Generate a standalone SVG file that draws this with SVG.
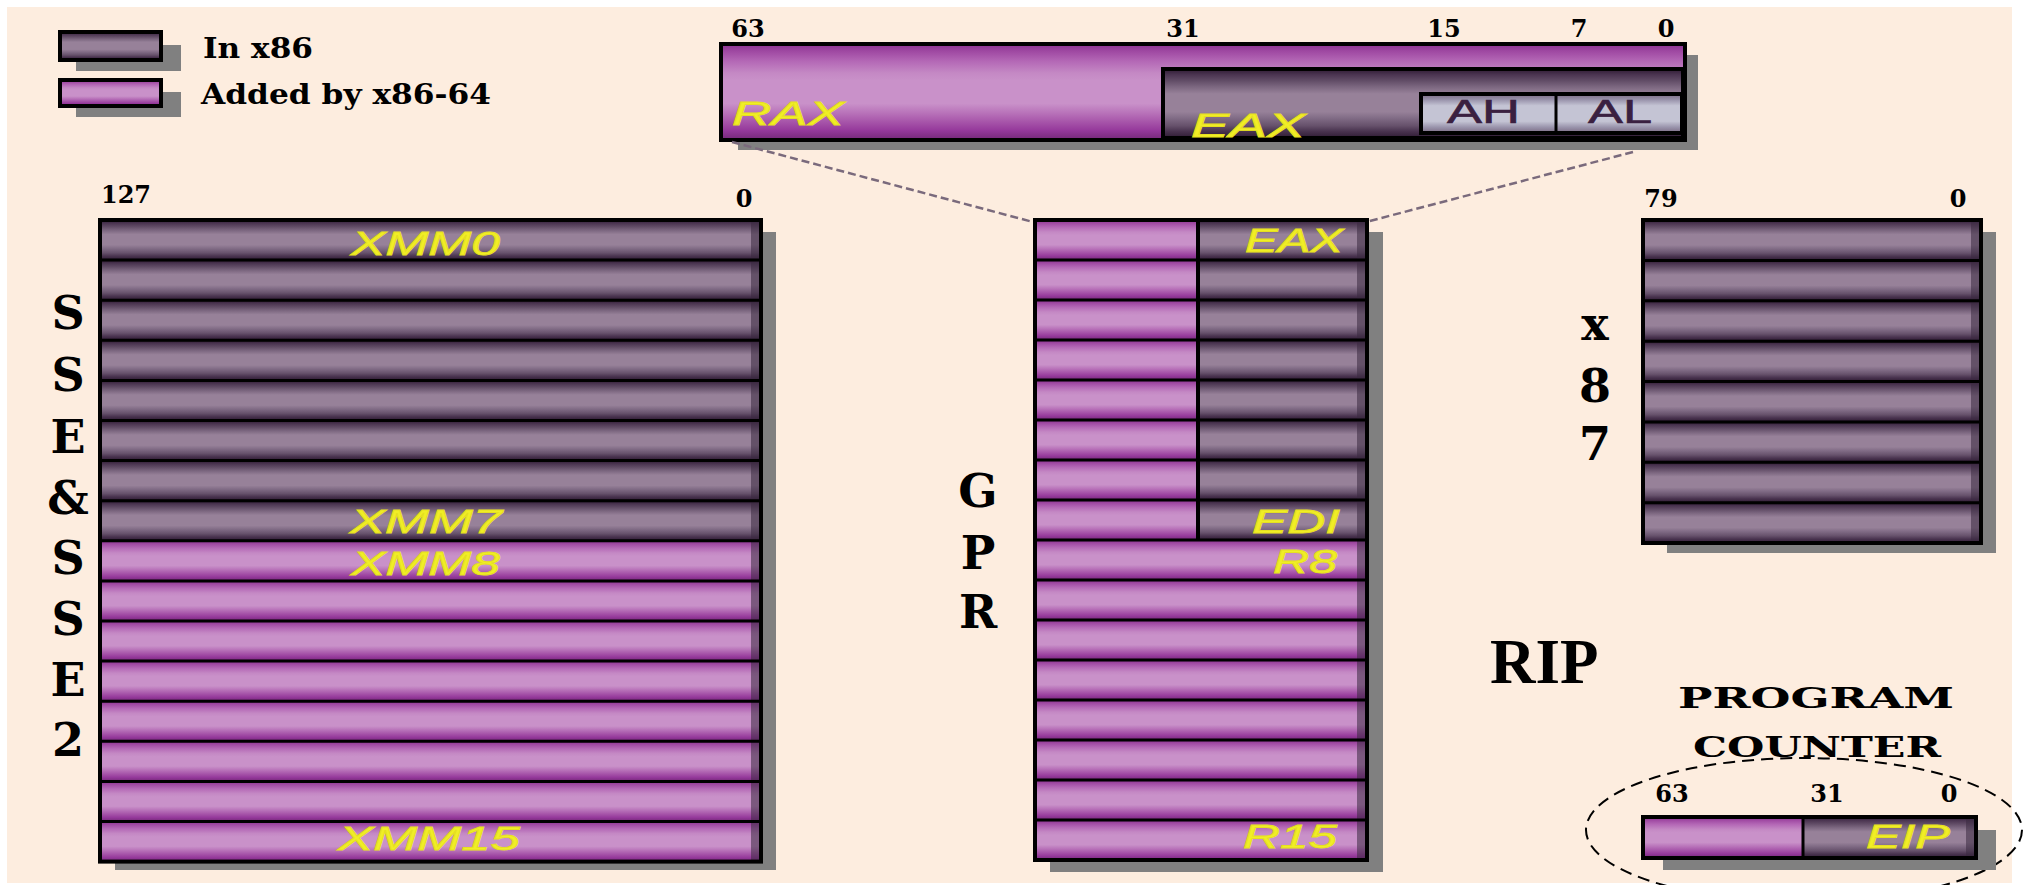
<svg xmlns="http://www.w3.org/2000/svg" width="2024" height="885" viewBox="0 0 2024 885">
<style>
.bn{font-family:"DejaVu Serif","Liberation Serif",serif;font-weight:bold;font-size:24px;fill:#000;text-anchor:middle}
.big{font-family:"DejaVu Serif","Liberation Serif",serif;font-weight:bold;font-size:46px;fill:#000;text-anchor:middle}
.lg{font-family:"DejaVu Serif","Liberation Serif",serif;font-weight:bold;font-size:27px;fill:#000}
.yl{font-family:"Liberation Sans",Arial,sans-serif;font-style:italic;font-size:34px;fill:#f0ee26;stroke:#e6e020;stroke-width:0.9}
.hl{font-family:"Liberation Sans",Arial,sans-serif;font-size:34px;fill:#3a2040;stroke:#3a2040;stroke-width:0.6}
.sh{fill:#808080}
.bd{fill:none;stroke:#000;stroke-width:4}
.sep{stroke:#000;stroke-width:3}
.g{fill:url(#gGrey)}
.m{fill:url(#gMag)}
.end{fill:#3a2a40;opacity:0.55}
.conn{stroke:#7a6a7c;stroke-width:2.5;stroke-dasharray:8 4;fill:none}
</style>
<defs>
<linearGradient id="gGrey" x1="0" y1="0" x2="0" y2="1">
<stop offset="0" stop-color="#2e1a32"/>
<stop offset="0.08" stop-color="#4a3450"/>
<stop offset="0.16" stop-color="#5f4a64"/>
<stop offset="0.26" stop-color="#7c6780"/>
<stop offset="0.36" stop-color="#978199"/>
<stop offset="0.62" stop-color="#978199"/>
<stop offset="0.72" stop-color="#7f6a84"/>
<stop offset="0.82" stop-color="#67526c"/>
<stop offset="0.9" stop-color="#4a3450"/>
<stop offset="1" stop-color="#2e1a32"/>
</linearGradient>
<linearGradient id="gMag" x1="0" y1="0" x2="0" y2="1">
<stop offset="0" stop-color="#8a3290"/>
<stop offset="0.08" stop-color="#a04aa3"/>
<stop offset="0.18" stop-color="#b468b6"/>
<stop offset="0.3" stop-color="#c488c4"/>
<stop offset="0.38" stop-color="#c991c9"/>
<stop offset="0.62" stop-color="#c991c9"/>
<stop offset="0.72" stop-color="#b872b9"/>
<stop offset="0.82" stop-color="#a552a8"/>
<stop offset="0.9" stop-color="#95399b"/>
<stop offset="1" stop-color="#742878"/>
</linearGradient>
<linearGradient id="gLight" x1="0" y1="0" x2="0" y2="1">
<stop offset="0" stop-color="#7a6a82"/>
<stop offset="0.15" stop-color="#9a94ac"/>
<stop offset="0.3" stop-color="#c4c4d4"/>
<stop offset="0.7" stop-color="#c4c4d4"/>
<stop offset="0.85" stop-color="#9a94ac"/>
<stop offset="1" stop-color="#7a6a82"/>
</linearGradient>
</defs>

<rect x="0" y="0" width="2024" height="885" fill="#ffffff"/>
<rect x="7" y="7" width="2005" height="876" fill="#fdeddf"/>

<g id="legend">
<rect class="sh" x="76" y="45" width="105" height="26"/>
<rect class="g" x="60" y="32" width="101" height="28"/>
<rect class="bd" x="60" y="32" width="101" height="28" stroke-width="3"/>
<text class="lg" x="203" y="58" textLength="110" lengthAdjust="spacingAndGlyphs">In x86</text>
<rect class="sh" x="76" y="92" width="105" height="25"/>
<rect class="m" x="60" y="80" width="101" height="26"/>
<rect class="bd" x="60" y="80" width="101" height="26" stroke-width="3"/>
<text class="lg" x="201" y="104" textLength="290" lengthAdjust="spacingAndGlyphs">Added by x86-64</text>
</g>

<g id="rax-detail">
<text class="bn" x="748" y="37">63</text>
<text class="bn" x="1183" y="37">31</text>
<text class="bn" x="1444" y="37">15</text>
<text class="bn" x="1579" y="37">7</text>
<text class="bn" x="1666" y="37">0</text>
<rect class="sh" x="738" y="55" width="960" height="95"/>
<rect class="m" x="721" y="44" width="964" height="96"/>
<rect class="bd" x="721" y="44" width="964" height="96"/>
<rect class="g" x="1163" y="69" width="520" height="69"/>
<rect class="bd" x="1163" y="69" width="520" height="69"/>
<rect fill="url(#gLight)" x="1421" y="94" width="261" height="39"/>
<rect class="bd" x="1421" y="94" width="261" height="39"/>
<line class="sep" x1="1556" y1="94" x2="1556" y2="133" stroke-width="4"/>
<text class="yl" x="732" y="125" textLength="112" lengthAdjust="spacingAndGlyphs">RAX</text>
<text class="yl" x="1191" y="137" textLength="114" lengthAdjust="spacingAndGlyphs">EAX</text>
<text class="hl" x="1447" y="123" textLength="73" lengthAdjust="spacingAndGlyphs">AH</text>
<text class="hl" x="1588" y="123" textLength="64" lengthAdjust="spacingAndGlyphs">AL</text>
</g>

<g id="connectors">
<line class="conn" x1="732" y1="142" x2="1033" y2="222"/>
<line class="conn" x1="1633" y1="152" x2="1366" y2="222"/>
</g>

<g id="sse">
<text class="bn" x="126" y="203">127</text>
<text class="bn" x="744" y="207">0</text>
<rect class="sh" x="115" y="232" width="661" height="638"/>
<rect class="g" x="100" y="220" width="661" height="40.1"/>
<rect class="g" x="100" y="260.1" width="661" height="40.1"/>
<rect class="g" x="100" y="300.2" width="661" height="40.1"/>
<rect class="g" x="100" y="340.3" width="661" height="40.1"/>
<rect class="g" x="100" y="380.4" width="661" height="40.1"/>
<rect class="g" x="100" y="420.5" width="661" height="40.1"/>
<rect class="g" x="100" y="460.6" width="661" height="40.1"/>
<rect class="g" x="100" y="500.7" width="661" height="40.1"/>
<rect class="m" x="100" y="540.8" width="661" height="40.1"/>
<rect class="m" x="100" y="580.9" width="661" height="40.1"/>
<rect class="m" x="100" y="621" width="661" height="40.1"/>
<rect class="m" x="100" y="661.1" width="661" height="40.1"/>
<rect class="m" x="100" y="701.2" width="661" height="40.1"/>
<rect class="m" x="100" y="741.3" width="661" height="40.1"/>
<rect class="m" x="100" y="781.4" width="661" height="40.1"/>
<rect class="m" x="100" y="821.5" width="661" height="40.1"/>
<rect class="end" x="751" y="220" width="10" height="641.6"/>
<g class="sep">
<line x1="100" y1="260.1" x2="761" y2="260.1"/>
<line x1="100" y1="300.2" x2="761" y2="300.2"/>
<line x1="100" y1="340.3" x2="761" y2="340.3"/>
<line x1="100" y1="380.4" x2="761" y2="380.4"/>
<line x1="100" y1="420.5" x2="761" y2="420.5"/>
<line x1="100" y1="460.6" x2="761" y2="460.6"/>
<line x1="100" y1="500.7" x2="761" y2="500.7"/>
<line x1="100" y1="540.8" x2="761" y2="540.8"/>
<line x1="100" y1="580.9" x2="761" y2="580.9"/>
<line x1="100" y1="621" x2="761" y2="621"/>
<line x1="100" y1="661.1" x2="761" y2="661.1"/>
<line x1="100" y1="701.2" x2="761" y2="701.2"/>
<line x1="100" y1="741.3" x2="761" y2="741.3"/>
<line x1="100" y1="781.4" x2="761" y2="781.4"/>
<line x1="100" y1="821.5" x2="761" y2="821.5"/>
</g>
<rect class="bd" x="100" y="220" width="661" height="641.6"/>
<text class="yl" x="351" y="255" textLength="149" lengthAdjust="spacingAndGlyphs">XMM0</text>
<text class="yl" x="350" y="533" textLength="152" lengthAdjust="spacingAndGlyphs">XMM7</text>
<text class="yl" x="351" y="575" textLength="149" lengthAdjust="spacingAndGlyphs">XMM8</text>
<text class="yl" x="338" y="850" textLength="182" lengthAdjust="spacingAndGlyphs">XMM15</text>
<text class="big" x="68" y="329">S</text>
<text class="big" x="68" y="391">S</text>
<text class="big" x="68" y="453">E</text>
<text class="big" x="68" y="514">&amp;</text>
<text class="big" x="68" y="574">S</text>
<text class="big" x="68" y="635">S</text>
<text class="big" x="68" y="696">E</text>
<text class="big" x="68" y="756">2</text>
</g>

<g id="gpr">
<rect class="sh" x="1050" y="232" width="333" height="640"/>
<rect class="m" x="1035" y="220" width="163" height="40"/>
<rect class="m" x="1035" y="260" width="163" height="40"/>
<rect class="m" x="1035" y="300" width="163" height="40"/>
<rect class="m" x="1035" y="340" width="163" height="40"/>
<rect class="m" x="1035" y="380" width="163" height="40"/>
<rect class="m" x="1035" y="420" width="163" height="40"/>
<rect class="m" x="1035" y="460" width="163" height="40"/>
<rect class="m" x="1035" y="500" width="163" height="40"/>
<rect class="g" x="1198" y="220" width="169" height="40"/>
<rect class="g" x="1198" y="260" width="169" height="40"/>
<rect class="g" x="1198" y="300" width="169" height="40"/>
<rect class="g" x="1198" y="340" width="169" height="40"/>
<rect class="g" x="1198" y="380" width="169" height="40"/>
<rect class="g" x="1198" y="420" width="169" height="40"/>
<rect class="g" x="1198" y="460" width="169" height="40"/>
<rect class="g" x="1198" y="500" width="169" height="40"/>
<rect class="m" x="1035" y="540" width="332" height="40"/>
<rect class="m" x="1035" y="580" width="332" height="40"/>
<rect class="m" x="1035" y="620" width="332" height="40"/>
<rect class="m" x="1035" y="660" width="332" height="40"/>
<rect class="m" x="1035" y="700" width="332" height="40"/>
<rect class="m" x="1035" y="740" width="332" height="40"/>
<rect class="m" x="1035" y="780" width="332" height="40"/>
<rect class="m" x="1035" y="820" width="332" height="40"/>
<rect class="end" x="1357" y="220" width="10" height="640"/>
<g class="sep">
<line x1="1035" y1="260" x2="1367" y2="260"/>
<line x1="1035" y1="300" x2="1367" y2="300"/>
<line x1="1035" y1="340" x2="1367" y2="340"/>
<line x1="1035" y1="380" x2="1367" y2="380"/>
<line x1="1035" y1="420" x2="1367" y2="420"/>
<line x1="1035" y1="460" x2="1367" y2="460"/>
<line x1="1035" y1="500" x2="1367" y2="500"/>
<line x1="1035" y1="540" x2="1367" y2="540"/>
<line x1="1035" y1="580" x2="1367" y2="580"/>
<line x1="1035" y1="620" x2="1367" y2="620"/>
<line x1="1035" y1="660" x2="1367" y2="660"/>
<line x1="1035" y1="700" x2="1367" y2="700"/>
<line x1="1035" y1="740" x2="1367" y2="740"/>
<line x1="1035" y1="780" x2="1367" y2="780"/>
<line x1="1035" y1="820" x2="1367" y2="820"/>
<line x1="1198" y1="220" x2="1198" y2="540" stroke-width="4"/>
</g>
<rect class="bd" x="1035" y="220" width="332" height="640"/>
<text class="yl" x="1245" y="252" textLength="98" lengthAdjust="spacingAndGlyphs">EAX</text>
<text class="yl" x="1252" y="533" textLength="88" lengthAdjust="spacingAndGlyphs">EDI</text>
<text class="yl" x="1273" y="573" textLength="64" lengthAdjust="spacingAndGlyphs">R8</text>
<text class="yl" x="1243" y="848" textLength="94" lengthAdjust="spacingAndGlyphs">R15</text>
<text class="big" x="978" y="507">G</text>
<text class="big" x="978" y="569">P</text>
<text class="big" x="978" y="628">R</text>
</g>

<g id="x87">
<text class="bn" x="1661" y="207">79</text>
<text class="bn" x="1958" y="207">0</text>
<rect class="sh" x="1667" y="232" width="329" height="321"/>
<rect class="g" x="1643" y="220" width="338" height="40.375"/>
<rect class="g" x="1643" y="260.375" width="338" height="40.375"/>
<rect class="g" x="1643" y="300.75" width="338" height="40.375"/>
<rect class="g" x="1643" y="341.125" width="338" height="40.375"/>
<rect class="g" x="1643" y="381.5" width="338" height="40.375"/>
<rect class="g" x="1643" y="421.875" width="338" height="40.375"/>
<rect class="g" x="1643" y="462.25" width="338" height="40.375"/>
<rect class="g" x="1643" y="502.625" width="338" height="40.375"/>
<rect class="end" x="1971" y="220" width="10" height="323"/>
<g class="sep">
<line x1="1643" y1="260.375" x2="1981" y2="260.375"/>
<line x1="1643" y1="300.75" x2="1981" y2="300.75"/>
<line x1="1643" y1="341.125" x2="1981" y2="341.125"/>
<line x1="1643" y1="381.5" x2="1981" y2="381.5"/>
<line x1="1643" y1="421.875" x2="1981" y2="421.875"/>
<line x1="1643" y1="462.25" x2="1981" y2="462.25"/>
<line x1="1643" y1="502.625" x2="1981" y2="502.625"/>
</g>
<rect class="bd" x="1643" y="220" width="338" height="323"/>
<text class="big" x="1595" y="340">x</text>
<text class="big" x="1595" y="402">8</text>
<text class="big" x="1595" y="460">7</text>
</g>

<g id="rip">
<text x="1490" y="683" font-family="'Liberation Serif','Times New Roman',serif" font-weight="bold" font-size="63">RIP</text>
<text class="lg" x="1678" y="708" font-size="36" textLength="276" lengthAdjust="spacingAndGlyphs">PROGRAM</text>
<text class="lg" x="1693" y="757" font-size="36" textLength="248" lengthAdjust="spacingAndGlyphs">COUNTER</text>
<ellipse cx="1804" cy="830" rx="218" ry="72" fill="none" stroke="#000" stroke-width="2" stroke-dasharray="12 7"/>
<text class="bn" x="1672" y="802">63</text>
<text class="bn" x="1827" y="802">31</text>
<text class="bn" x="1949" y="802">0</text>
<rect class="sh" x="1663" y="830" width="333" height="40"/>
<rect class="m" x="1643" y="817" width="160" height="41"/>
<rect class="g" x="1803" y="817" width="173" height="41"/>
<rect class="end" x="1966" y="817" width="10" height="41"/>
<line class="sep" x1="1803" y1="817" x2="1803" y2="858" stroke-width="4"/>
<rect class="bd" x="1643" y="817" width="333" height="41"/>
<text class="yl" x="1866" y="848" textLength="84" lengthAdjust="spacingAndGlyphs">EIP</text>
</g>
</svg>
